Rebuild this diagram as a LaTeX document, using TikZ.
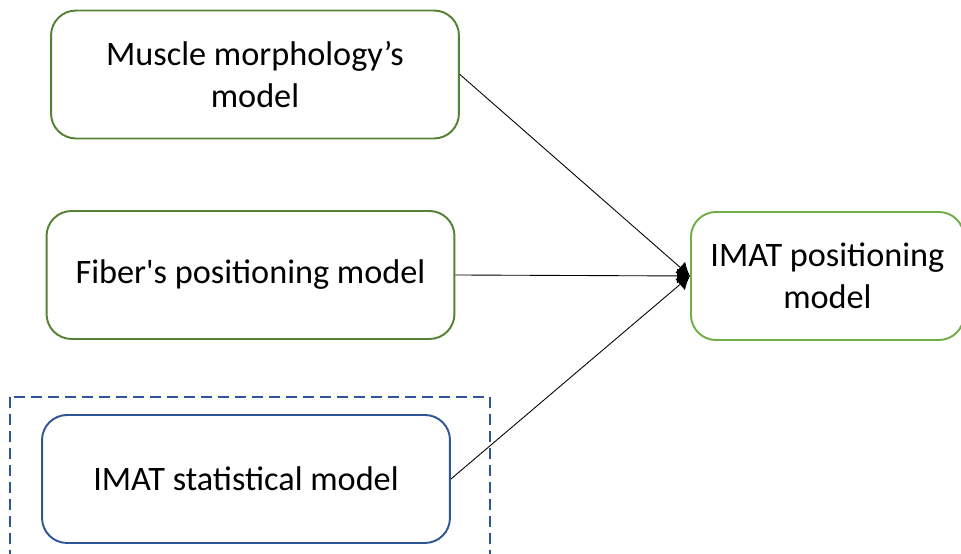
\documentclass[tikz,border=0pt]{standalone}
\usepackage{fontspec}
\newfontfamily\calfont{Carlito}
\usetikzlibrary{arrows.meta}
\definecolor{modgreen}{HTML}{548235}
\definecolor{posgreen}{HTML}{70AD47}
\definecolor{statblue}{HTML}{2F5597}

\begin{document}
\begin{tikzpicture}[x=0.02cm,y=0.02cm,font=\calfont\fontsize{19.5}{23.8}\selectfont,
  modbox/.style={draw=#1,line width=1.1pt,rounded corners=0.5cm,minimum width=8.16cm,minimum height=2.56cm,align=center,inner sep=0pt},
  link/.style={line width=0.5pt,-{Latex[length=0.26cm,width=0.3cm]}}]
\useasboundingbox (0,0) rectangle (961,554);
\node[modbox=modgreen] (morph) at (255,479.5) {Muscle morphology’s\\model};
\node[modbox=modgreen] (fiber) at (250.5,279) {Fiber's positioning model};
\node[modbox=statblue] (stat) at (246,75) {IMAT statistical model};
\node[modbox=posgreen,minimum width=5.46cm,anchor=west] (imat) at (690,278) {IMAT positioning\\model};
\draw[statblue,line width=1.1pt,dash pattern=on 0.22cm off 0.12cm] (10,157) rectangle (490,-8);
\draw[link] (morph.east) -- (imat.west);
\draw[link] (fiber.east) -- (imat.west);
\draw[link] (stat.east) -- (imat.west);
\end{tikzpicture}
\end{document}
